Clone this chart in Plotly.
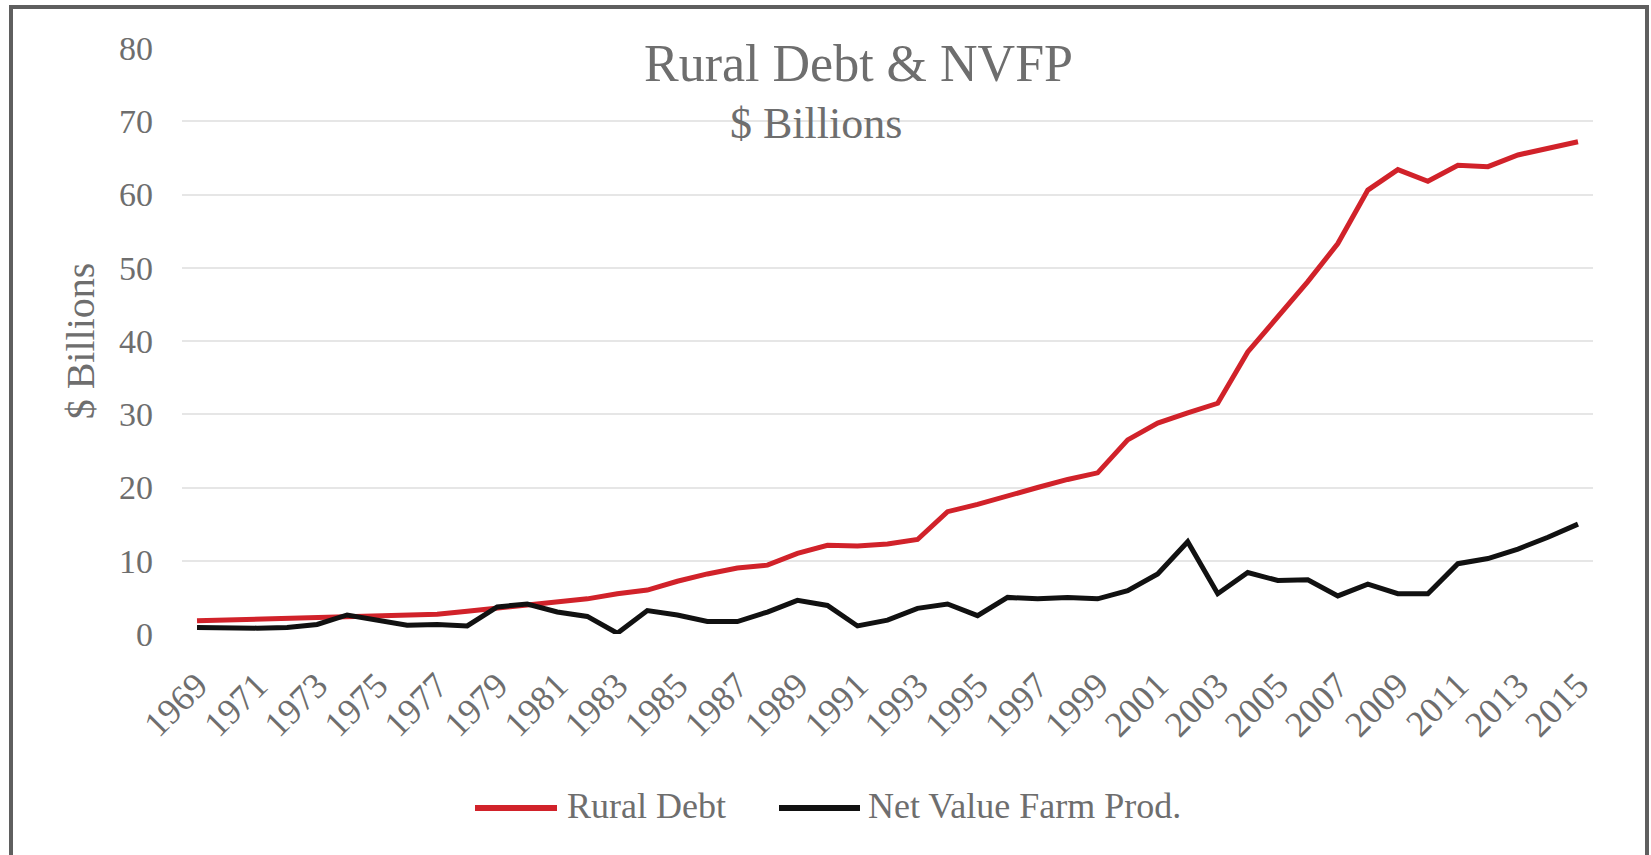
import plotly.graph_objects as go

years = list(range(1969, 2016))
rural_debt = [1.8, 1.9, 2.0, 2.1, 2.2, 2.3, 2.4, 2.5, 2.7, 3.1,
              3.5, 4.0, 4.4, 4.8, 5.5, 6.0, 7.2, 8.2, 9.0, 9.4,
              11.0, 12.1, 12.0, 12.3, 12.9, 16.7, 17.7, 18.9, 20.0, 21.1,
              22.0, 26.5, 28.8, 30.2, 31.5, 38.5, 43.2, 48.1, 53.3, 60.6,
              63.4, 61.8, 64.0, 63.8, 65.4, 66.3, 67.2]
nvfp = [0.9, 0.8, 0.8, 0.9, 1.3, 2.6, 1.9, 1.2, 1.3, 1.1,
        3.7, 4.1, 3.0, 2.4, 0.1, 3.2, 2.6, 1.7, 1.7, 3.0,
        4.6, 3.9, 1.1, 1.9, 3.5, 4.1, 2.5, 5.0, 4.8, 5.0,
        4.8, 5.9, 8.2, 12.6, 5.5, 8.4, 7.3, 7.4, 5.2, 6.8,
        5.5, 5.5, 9.6, 10.3, 11.6, 13.2, 15.0]
tick_years = years[::2]
y_ticks = [0, 10, 20, 30, 40, 50, 60, 70, 80]
series_names = ["Rural Debt", "Net Value Farm Prod."]
series_colors = ["#D1222A", "#111111"]

FONT = "Liberation Serif"
GRAY = "#6e6e6e"

W, H = 1651, 855
PX0, PX1, PY0, PY1 = 182, 1593, 48, 634          # plot area in screen px
L, R, T, B = PX0, W - PX1, PY0, H - PY1
pw, ph = PX1 - PX0, PY1 - PY0


def px(x):
    return (x - PX0) / pw


def py(y):
    return (PY1 - y) / ph


fig = go.Figure()
for vals, name, color in zip([rural_debt, nvfp], series_names, series_colors):
    fig.add_trace(go.Scatter(x=years, y=vals, mode="lines", name=name,
                             line=dict(color=color, width=5), showlegend=False))

# custom legend (long line samples as in the reference)
legend_items = [(475, 557, 565), (779, 860, 866)]
shapes = []
annotations = []
for (lx0, lx1, tx), name, color in zip(legend_items, series_names, series_colors):
    shapes.append(dict(type="line", xref="paper", yref="paper",
                       x0=px(lx0), x1=px(lx1), y0=py(808), y1=py(808),
                       line=dict(color=color, width=6)))
    annotations.append(dict(text=name, x=px(tx), y=py(806), xref="paper", yref="paper",
                            xanchor="left", yanchor="middle", showarrow=False,
                            font=dict(family=FONT, size=36, color=GRAY)))

annotations += [
    dict(text="Rural Debt & NVFP", x=px(642), y=py(63), xref="paper", yref="paper",
         xanchor="left", yanchor="middle", showarrow=False,
         font=dict(family=FONT, size=52, color=GRAY)),
    dict(text="$ Billions", x=px(728), y=py(123), xref="paper", yref="paper",
         xanchor="left", yanchor="middle", showarrow=False,
         font=dict(family=FONT, size=44, color=GRAY)),
]

shapes.append(dict(type="rect", xref="paper", yref="paper",
                   x0=px(11), x1=px(1647), y0=py(880), y1=py(7),
                   line=dict(color="#5f5f5f", width=4), fillcolor="rgba(0,0,0,0)",
                   layer="below"))

fig.update_layout(
    width=W, height=H,
    margin=dict(l=L, r=R, t=T, b=B),
    paper_bgcolor="white", plot_bgcolor="white",
    font=dict(family=FONT, color=GRAY, size=34),
    showlegend=False,
    xaxis=dict(range=[1968.5, 2015.5], tickmode="array", tickvals=tick_years,
               ticktext=[str(v) for v in tick_years], tickangle=-45,
               showgrid=False, zeroline=False, showline=False, ticks="",
               ticklabelstandoff=22,
               tickfont=dict(family=FONT, size=36, color=GRAY)),
    yaxis=dict(range=[0, 80], tickmode="array", tickvals=y_ticks,
               showgrid=True, gridcolor="#E6E6E6", gridwidth=2,
               zeroline=False, showline=False, ticks="",
               ticklabelstandoff=28,
               tickfont=dict(family=FONT, size=34, color=GRAY),
               title=dict(text="$ Billions", font=dict(family=FONT, size=40, color=GRAY),
                          standoff=12)),
    annotations=annotations,
    shapes=shapes,
)

fig.write_html("out.html",
               config={"displayModeBar": False},
               post_script="document.body.style.margin='0';document.body.style.overflow='hidden';")
